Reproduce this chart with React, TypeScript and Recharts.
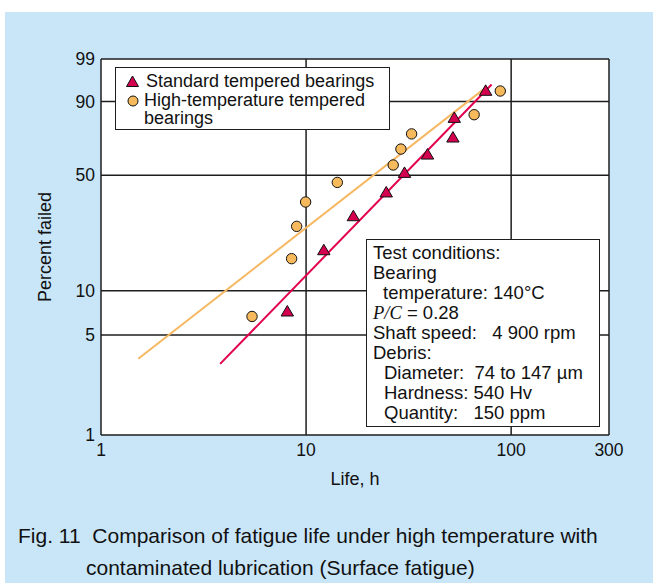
import React from 'react';
import { ScatterChart, Scatter, XAxis, YAxis, CartesianGrid, Legend } from 'recharts';

// Weibull probability paper: life (h, log) vs percent failed
const standardLife = [8.1, 12.2, 17.0, 24.6, 30.2, 39.1, 52.0, 52.8, 75.1];
const standardFailed = [7.3, 18.6, 30.1, 41.0, 51.6, 62.4, 72.5, 83.1, 93.7];

const highTempLife = [5.45, 8.5, 9.0, 9.95, 14.2, 26.6, 29.0, 32.7, 66.0, 88.5];
const highTempFailed = [6.7, 16.3, 26.0, 36.1, 46.0, 55.9, 65.4, 74.3, 84.4, 93.5];

// fitted Weibull lines (end points)
const standardFitLife = [3.81, 80.3];
const standardFitFailed = [3.15, 95.2];
const highTempFitLife = [1.52, 73.8];
const highTempFitFailed = [3.42, 94.1];

const xTicks = [1, 10, 100, 300];
const yTickLabels = [1, 5, 10, 50, 90, 99];

const weibull = (p: number) => Math.log(-Math.log(1 - p / 100));

const toPoints = (life: number[], failed: number[]) =>
  life.map((l, i) => ({ life: l, w: weibull(failed[i]) }));

const standardData = toPoints(standardLife, standardFailed);
const highTempData = toPoints(highTempLife, highTempFailed);
const standardFit = toPoints(standardFitLife, standardFitFailed);
const highTempFit = toPoints(highTempFitLife, highTempFitFailed);

const yTicks = yTickLabels.map(weibull);

const RED = '#d4004f';
const ORANGE = '#f6ba5c';
const RED_LINE = '#e2004f';
const ORANGE_LINE = '#f6b862';
const INK = '#1e1e1e';
const FONT = '"Liberation Sans", Arial, Helvetica, sans-serif';

const Triangle = (props: any) => {
  const { cx, cy } = props;
  if (cx == null || cy == null) return null;
  return (
    <polygon
      points={`${cx},${cy - 5.5} ${cx + 6.2},${cy + 5} ${cx - 6.2},${cy + 5}`}
      fill={RED}
      stroke="#111"
      strokeWidth={1}
    />
  );
};

const Dot = (props: any) => {
  const { cx, cy } = props;
  if (cx == null || cy == null) return null;
  return <circle cx={cx} cy={cy} r={5.2} fill={ORANGE} stroke="#111" strokeWidth={1} />;
};

const Nothing = () => <g />;

const legendRow: React.CSSProperties = { position: 'relative', height: 18.5, paddingLeft: 28 };

const LegendBox = () => (
  <div
    style={{
      width: 275,
      height: 63,
      background: '#fff',
      border: `1.5px solid ${INK}`,
      fontFamily: FONT,
      fontSize: 18,
      lineHeight: '18.5px',
      color: '#111',
      paddingTop: 4,
      boxSizing: 'border-box',
      whiteSpace: 'nowrap',
    }}
  >
    <div style={{ ...legendRow, paddingLeft: 30 }}>
      <svg width={24} height={18} style={{ position: 'absolute', left: 4, top: 0 }}>
        <polygon points="12.5,4 18.5,14.5 6.5,14.5" fill={RED} stroke="#111" strokeWidth={1} />
      </svg>
      Standard tempered bearings
    </div>
    <div style={legendRow}>
      <svg width={24} height={18} style={{ position: 'absolute', left: 4, top: 0 }}>
        <circle cx={13} cy={10} r={5} fill={ORANGE} stroke="#111" strokeWidth={1} />
      </svg>
      High-temperature tempered
    </div>
    <div style={legendRow}>bearings</div>
  </div>
);

const conditions: { text: React.ReactNode; indent: number }[] = [
  { text: 'Test conditions:', indent: 0 },
  { text: 'Bearing', indent: 0 },
  { text: 'temperature: 140\u00b0C', indent: 10 },
  {
    text: (
      <>
        <span style={{ fontFamily: '"Liberation Serif", "Times New Roman", serif', fontStyle: 'italic' }}>P/C</span>
        {' = 0.28'}
      </>
    ),
    indent: 0,
  },
  { text: 'Shaft speed:   4 900 rpm', indent: 0 },
  { text: 'Debris:', indent: 0 },
  { text: 'Diameter:  74 to 147 \u00b5m', indent: 11 },
  { text: 'Hardness: 540 Hv', indent: 11 },
  { text: 'Quantity:   150 ppm', indent: 11 },
];

const App: React.FC = () => {
  return (
    <div style={{ position: 'relative', width: 656, height: 583, background: '#fff', overflow: 'hidden' }}>
      <style>{'body{margin:0}'}</style>
      <div style={{ position: 'absolute', left: 5, top: 12, right: 3, bottom: 0, background: '#c9e6f9' }} />

      <div style={{ position: 'absolute', left: 0, top: 0 }}>
        <ScatterChart width={656} height={583} margin={{ top: 59, right: 47, bottom: 118, left: 61 }}>
          <CartesianGrid fill="#fff" stroke={INK} strokeWidth={1.5} />
          <XAxis
            type="number"
            dataKey="life"
            scale="log"
            domain={[1, 300]}
            ticks={xTicks}
            allowDataOverflow
            axisLine={false}
            tickLine={false}
            tickSize={7}
            height={30}
            tick={{ fill: '#111', fontSize: 17.5, fontFamily: FONT }}
            label={{ value: 'Life, h', position: 'bottom', offset: 7, fill: '#111', fontSize: 18, fontFamily: FONT }}
          />
          <YAxis
            type="number"
            dataKey="w"
            domain={[yTicks[0], yTicks[yTicks.length - 1]]}
            ticks={yTicks}
            allowDataOverflow
            axisLine={false}
            tickLine={false}
            tickSize={6}
            tickMargin={0}
            width={40}
            tickFormatter={(v: number, i: number) => String(yTickLabels[i] ?? '')}
            tick={{ fill: '#111', fontSize: 17.5, fontFamily: FONT }}
            label={{
              value: 'Percent failed',
              angle: -90,
              position: 'insideLeft',
              offset: -16,
              fill: '#111',
              fontSize: 18,
              fontFamily: FONT,
              style: { textAnchor: 'middle' },
            }}
          />
          <Legend
            layout="vertical"
            align="center"
            verticalAlign="middle"
            content={() => <LegendBox />}
            wrapperStyle={{ left: 115, top: 67, width: 275, height: 63 }}
          />
          <Scatter
            name="High-temperature fit"
            data={highTempFit}
            line={{ stroke: ORANGE_LINE, strokeWidth: 2 }}
            shape={Nothing}
            legendType="none"
            isAnimationActive={false}
          />
          <Scatter
            name="Standard fit"
            data={standardFit}
            line={{ stroke: RED_LINE, strokeWidth: 2 }}
            shape={Nothing}
            legendType="none"
            isAnimationActive={false}
          />
          <Scatter name="High-temperature tempered bearings" data={highTempData} shape={Dot} isAnimationActive={false} />
          <Scatter name="Standard tempered bearings" data={standardData} shape={Triangle} isAnimationActive={false} />
        </ScatterChart>
      </div>

      <div
        style={{
          position: 'absolute',
          left: 366,
          top: 239,
          width: 234,
          height: 188,
          boxSizing: 'border-box',
          background: '#fff',
          border: `1.5px solid ${INK}`,
          padding: '3px 0 0 6px',
          fontFamily: FONT,
          fontSize: 18.5,
          lineHeight: '20px',
          color: '#111',
          whiteSpace: 'pre',
        }}
      >
        {conditions.map((c, i) => (
          <div key={i} style={{ paddingLeft: c.indent }}>
            {c.text}
          </div>
        ))}
      </div>

      <div
        style={{
          position: 'absolute',
          left: 18,
          top: 520,
          fontFamily: FONT,
          fontSize: 21,
          lineHeight: '32px',
          color: '#111',
          whiteSpace: 'pre',
        }}
      >
        <div>{'Fig. 11  Comparison of fatigue life under high temperature with'}</div>
        <div style={{ paddingLeft: 68 }}>contaminated lubrication (Surface fatigue)</div>
      </div>
    </div>
  );
};

export default App;
